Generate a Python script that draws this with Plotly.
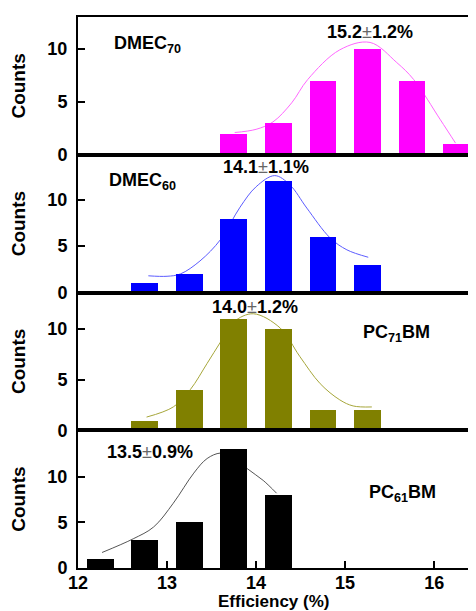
import plotly.graph_objects as go
from plotly.subplots import make_subplots

# ---- data ----
bins_dmec70 = [13.75, 14.25, 14.75, 15.25, 15.75, 16.25]
counts_dmec70 = [2, 3, 7, 10, 7, 1]
bins_dmec60 = [12.75, 13.25, 13.75, 14.25, 14.75, 15.25]
counts_dmec60 = [1, 2, 8, 12, 6, 3]
bins_pc71 = [12.75, 13.25, 13.75, 14.25, 14.75, 15.25]
counts_pc71 = [1, 4, 11, 10, 2, 2]
bins_pc61 = [12.25, 12.75, 13.25, 13.75, 14.25]
counts_pc61 = [1, 3, 5, 13, 8]

# fitted curves
fit_dmec70_x = [13.76, 14.0, 14.19, 14.4, 14.58, 14.94, 15.28, 15.58, 15.77, 16.07, 16.24]
fit_dmec70_y = [2.1, 2.4, 3.1, 4.9, 7.1, 9.9, 10.6, 8.7, 7.1, 3.3, 1.1]
fit_dmec60_x = [12.79, 13.0, 13.15, 13.37, 13.6, 13.82, 14.0, 14.21, 14.38, 14.57, 14.83, 15.02, 15.26]
fit_dmec60_y = [1.8, 1.75, 2.0, 3.4, 5.7, 9.2, 11.4, 12.6, 11.6, 9.1, 5.9, 4.6, 3.8]
fit_pc71_x = [12.77, 13.07, 13.26, 13.45, 13.6, 13.75, 13.97, 14.27, 14.49, 14.72, 14.94, 15.09, 15.3]
fit_pc71_y = [1.3, 2.3, 4.0, 6.6, 8.7, 10.7, 11.5, 10.1, 7.3, 4.6, 3.0, 2.4, 2.3]
fit_pc61_x = [12.27, 12.62, 12.85, 13.07, 13.3, 13.45, 13.6, 13.75, 13.9, 14.08, 14.23]
fit_pc61_y = [1.7, 3.2, 4.5, 7.1, 10.4, 12.0, 12.6, 12.2, 10.9, 9.6, 8.2]

panels = [
    dict(bx=bins_dmec70, by=counts_dmec70, fx=fit_dmec70_x, fy=fit_dmec70_y,
         bar="#FF00FF", line="#FF66FF", yr=[0, 13.0]),
    dict(bx=bins_dmec60, by=counts_dmec60, fx=fit_dmec60_x, fy=fit_dmec60_y,
         bar="#0000FF", line="#5C5CFF", yr=[0, 14.85]),
    dict(bx=bins_pc71, by=counts_pc71, fx=fit_pc71_x, fy=fit_pc71_y,
         bar="#808000", line="#A6A63A", yr=[0, 13.6]),
    dict(bx=bins_pc61, by=counts_pc61, fx=fit_pc61_x, fy=fit_pc61_y,
         bar="#000000", line="#555555", yr=[0, 15.1]),
]

FONT = "Arial, Liberation Sans, sans-serif"
XR = [12, 16.47]

fig = make_subplots(rows=4, cols=1, shared_xaxes=True, vertical_spacing=0)

for i, p in enumerate(panels, start=1):
    sfx = "" if i == 1 else str(i)
    ov = str(4 + i)
    # fit curve on base axes (drawn underneath)
    fig.add_trace(go.Scatter(x=p["fx"], y=p["fy"], mode="lines", line_shape="spline",
                             line=dict(color=p["line"], width=1),
                             showlegend=False, hoverinfo="skip"), row=i, col=1)
    # bars on an overlaying axis so they are drawn above the curve
    fig.add_trace(go.Bar(x=p["bx"], y=p["by"], width=0.3, marker_color=p["bar"],
                         marker_line_width=0, showlegend=False,
                         xaxis="x" + sfx, yaxis="y" + ov))
    fig.update_layout(**{"yaxis" + ov: dict(overlaying="y" + sfx, anchor="x" + sfx,
                                            range=p["yr"], visible=False,
                                            showgrid=False, zeroline=False)})
    fig.update_yaxes(range=p["yr"], tickvals=[0, 5, 10], ticks="inside", ticklen=7,
                     tickwidth=2, showline=True, mirror="ticks", linewidth=2,
                     linecolor="black", tickcolor="black", showgrid=False, zeroline=False,
                     automargin=False, ticklabelstandoff=5,
                     tickfont=dict(family=FONT, size=18, color="black", weight="bold"),
                     title=dict(text="<b>Counts</b>", standoff=18,
                                font=dict(family=FONT, size=19, color="black")),
                     row=i, col=1)
    fig.update_xaxes(range=XR, showline=True, mirror=True, linewidth=2,
                     linecolor="black", showgrid=False, zeroline=False,
                     automargin=False, row=i, col=1)

fig.update_xaxes(ticks="inside", ticklen=7, tickwidth=1.5, tickcolor="black",
                 tickvals=[12, 13, 14, 15, 16], showticklabels=True,
                 ticklabelstandoff=-3,
                 tickfont=dict(family=FONT, size=18, color="black", weight="bold"),
                 row=4, col=1)

fig.add_annotation(x=0.49, y=-0.0615, xref="paper", yref="paper",
                   text="<b>Efficiency (%)</b>", showarrow=False,
                   xanchor="center", yanchor="middle",
                   font=dict(family=FONT, size=17, color="black"))

def pm(a, b):
    return "<b>%s</b><span style='color:#666666'>±</span><b>%s</b>" % (a, b)

ann = [
    (1, 12.39, 10.4, "<b>DMEC<sub>70</sub></b>", "left"),
    (1, 15.28, 11.6, pm("15.2", "1.2%"), "center"),
    (2, 12.34, 12.0, "<b>DMEC<sub>60</sub></b>", "left"),
    (2, 14.11, 13.5, pm("14.1", "1.1%"), "center"),
    (3, 13.99, 12.2, pm("14.0", "1.2%"), "center"),
    (3, 15.19, 9.6, "<b>PC<sub>71</sub>BM</b>", "left"),
    (4, 12.81, 12.7, pm("13.5", "0.9%"), "center"),
    (4, 15.26, 8.2, "<b>PC<sub>61</sub>BM</b>", "left"),
]
for row, x, y, t, xa in ann:
    sfx = "" if row == 1 else str(row)
    fig.add_annotation(x=x, y=y, xref="x" + sfx, yref="y" + sfx, text=t,
                       showarrow=False, xanchor=xa, yanchor="middle", borderpad=0,
                       font=dict(family=FONT, size=18, color="black"))

# page body has an 8px default margin: size/margins compensate for it
fig.update_layout(width=468, height=603,
                  margin=dict(l=70, r=0, t=9, b=43, autoexpand=False),
                  plot_bgcolor="white", paper_bgcolor="white", bargap=0,
                  font=dict(family=FONT, color="black"))

fig.write_html("out.html")
